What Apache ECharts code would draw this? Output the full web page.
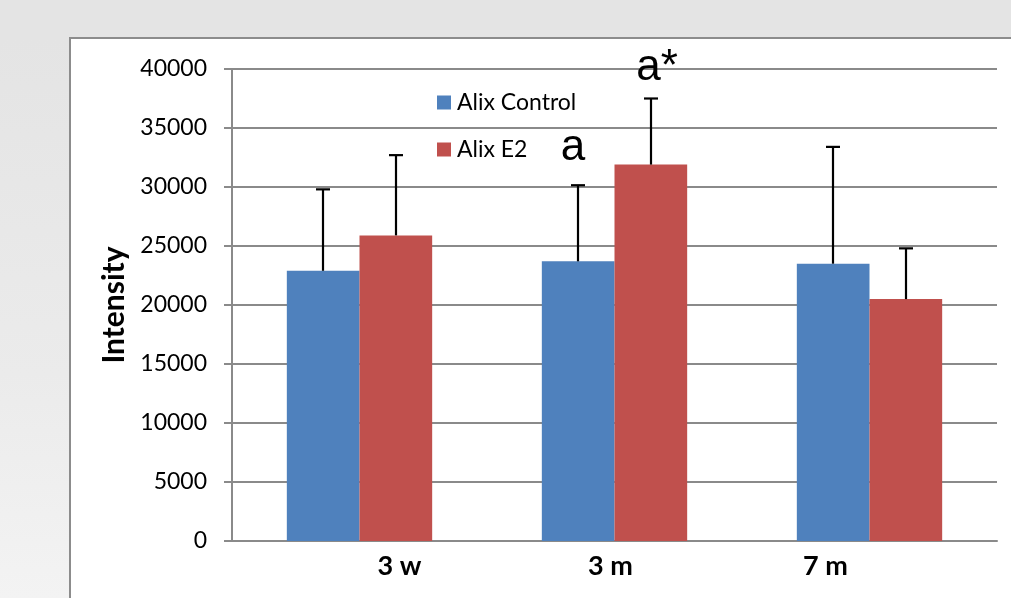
<!DOCTYPE html>
<html>
<head>
<meta charset="utf-8">
<script src="https://cdn.jsdelivr.net/npm/echarts@6/dist/echarts.min.js"></script>
<style>
html,body{margin:0;padding:0;background:#e4e4e4;}
#main{width:1011px;height:598px;}
</style>
</head>
<body>
<div id="main"></div>
<script>
var categories = ['3 w', '3 m', '7 m'];
var seriesNames = ['Alix Control', 'Alix E2'];
var controlValues = [22900, 23700, 23500];
var e2Values = [25900, 31900, 20500];
var controlErrTop = [29800, 30150, 33400];
var e2ErrTop = [32700, 37500, 24800];
var controlNotes = ['', 'a', ''];
var e2Notes = ['', 'a*', ''];
var yTicks = [0, 5000, 10000, 15000, 20000, 25000, 30000, 35000, 40000];
var labelShift = [40, -4, -44];

var GAP = 0.43;
function errSeries(name, values, errTop, notes, sign) {
  return {
    type: 'custom',
    name: name + ' err',
    z: 5,
    data: errTop.map(function (v, i) { return [i, v, values[i]]; }),
    renderItem: function (params, api) {
      var i = api.value(0);
      var top = api.value(1);
      var val = api.value(2);
      var note = notes[i];
      var catW = api.size([1, 0])[0];
      var bw = catW * (1 - GAP) / 2;
      var base = api.coord([i, 0]);
      var pv = api.coord([i, val]);
      var pt = api.coord([i, top]);
      var x = Math.round(base[0] + sign * bw / 2);
      var children = [
        { type: 'line', shape: { x1: x, y1: pv[1], x2: x, y2: pt[1] }, style: { stroke: '#000', lineWidth: 2.2 } },
        { type: 'line', shape: { x1: x - 7, y1: pt[1], x2: x + 7, y2: pt[1] }, style: { stroke: '#000', lineWidth: 2.2 } }
      ];
      if (note) {
        children.push({
          type: 'text',
          style: { text: note, x: x + (note.length > 1 ? 6 : -5), y: pt[1] - (note.length > 1 ? 9 : 15),
                   align: 'center', verticalAlign: 'bottom',
                   font: '44px "Liberation Sans", Arial, sans-serif', fill: '#000' }
        });
      }
      return { type: 'group', children: children };
    }
  };
}

var chart = echarts.init(document.getElementById('main'), null, { renderer: 'canvas' });
chart.setOption({
  backgroundColor: '#e4e4e4',
  animation: false,
  graphic: [{
    type: 'rect', z: -11, silent: true,
    shape: { x: 0, y: 38, width: 70, height: 560 },
    style: { fill: new echarts.graphic.LinearGradient(0, 0, 0, 1, [
      { offset: 0, color: '#e4e4e4' }, { offset: 0.6, color: '#ebebeb' }, { offset: 1, color: '#f3f3f3' }]) }
  }, {
    type: 'rect', z: -10, silent: true,
    shape: { x: 70, y: 38, width: 1000, height: 600 },
    style: { fill: '#ffffff', stroke: '#8c8c8c', lineWidth: 2 }
  }],
  grid: { left: 232, right: 14, top: 69, bottom: 57, containLabel: false },
  legend: {
    orient: 'vertical', left: 432, top: 86, itemGap: 24,
    itemWidth: 14, itemHeight: 14, icon: 'rect',
    data: seriesNames,
    textStyle: { fontFamily: 'Lato', fontSize: 23, color: '#000', padding: [0, 0, 0, 1] }
  },
  xAxis: {
    type: 'category',
    data: categories.map(function (c, i) {
      var s = labelShift[i];
      return { value: c, textStyle: { padding: s >= 0 ? [0, 0, 0, 2 * s] : [0, -2 * s, 0, 0] } };
    }),
    axisLine: { lineStyle: { color: '#8a8a8a', width: 2 } },
    axisTick: { show: false },
    axisLabel: { fontFamily: 'Lato', fontWeight: 'bold', fontSize: 27, color: '#000', margin: 12 }
  },
  yAxis: {
    type: 'value', min: yTicks[0], max: yTicks[yTicks.length - 1], interval: 5000,
    name: 'Intensity', nameLocation: 'middle', nameGap: 102,
    nameTextStyle: { fontFamily: 'Lato', fontWeight: 'bold', fontSize: 30, color: '#000' },
    axisLine: { show: true, lineStyle: { color: '#8a8a8a', width: 2 } },
    axisTick: { show: true, length: 8, lineStyle: { color: '#8a8a8a', width: 2 } },
    axisLabel: { fontFamily: 'Lato', fontSize: 23, color: '#000', margin: 25,
                 formatter: function (v) { return String(v); } },
    splitLine: { lineStyle: { color: '#8a8a8a', width: 2 } }
  },
  series: [
    { type: 'bar', name: seriesNames[0], data: controlValues, barGap: '0%', barCategoryGap: '43%',
      itemStyle: { color: '#4f81bd' } },
    { type: 'bar', name: seriesNames[1], data: e2Values, barGap: '0%', barCategoryGap: '43%',
      itemStyle: { color: '#c0504d' } },
    errSeries(seriesNames[0], controlValues, controlErrTop, controlNotes, -1),
    errSeries(seriesNames[1], e2Values, e2ErrTop, e2Notes, 1)
  ]
});
</script>
</body>
</html>
